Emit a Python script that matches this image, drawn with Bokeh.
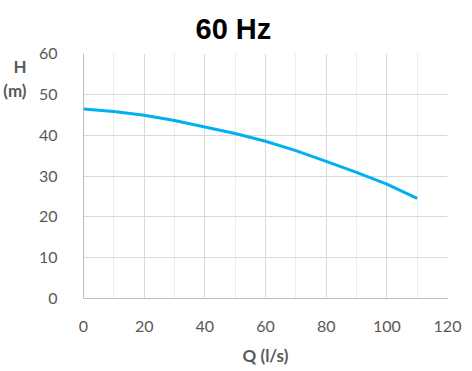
from bokeh.plotting import figure
from bokeh.models import FixedTicker, Range1d, LinearAxis, Title
from bokeh.embed import file_html
from bokeh.resources import INLINE

# Data
q = [0, 10, 20, 30, 40, 50, 60, 70, 80, 90, 100, 110]
h = [46.4, 45.8, 44.9, 43.6, 42.0, 40.4, 38.5, 36.2, 33.6, 30.9, 28.0, 24.5]
x_ticks = [0, 20, 40, 60, 80, 100, 120]
x_minor = [10, 30, 50, 70, 90, 110]
y_ticks = [0, 10, 20, 30, 40, 50, 60]
title_text = "60 Hz"
x_label = "Q (l/s)"
y_label_lines = {56.8: "H", 50.9: "(m)"}

W, H = 472, 371
p = figure(width=W, height=H, output_backend="svg", toolbar_location=None,
           x_range=Range1d(0, 120), y_range=Range1d(0, 60))
p.min_border_left = 83
p.min_border_right = 25
p.min_border_top = 53
p.min_border_bottom = 73
p.outline_line_color = None
p.background_fill_color = "white"
p.border_fill_color = "white"

tick_font = "Lato"
grey = "#595959"

p.xaxis.ticker = FixedTicker(ticks=x_ticks, minor_ticks=x_minor)
p.yaxis.ticker = FixedTicker(ticks=y_ticks)
for ax in (p.xaxis[0], p.yaxis[0]):
    ax.axis_line_color = "#bfbfbf"
    ax.axis_line_width = 1
    ax.major_tick_line_color = None
    ax.minor_tick_line_color = None
    ax.major_label_text_font = tick_font
    ax.major_label_text_font_size = "16px"
    ax.major_label_text_color = grey
p.yaxis.major_label_standoff = 20
p.xaxis.major_label_standoff = 16

p.xaxis.axis_label = x_label
p.xaxis.axis_label_text_font = tick_font
p.xaxis.axis_label_text_font_style = "bold"
p.xaxis.axis_label_text_font_size = "17px"
p.xaxis.axis_label_text_color = grey
p.xaxis.axis_label_standoff = 10

p.xgrid.grid_line_color = "#d9d9d9"
p.xgrid.minor_grid_line_color = "#ebebeb"
p.ygrid.grid_line_color = "#d9d9d9"

# "H (m)" label as an unlined outer axis on the left
lab_axis = LinearAxis(ticker=FixedTicker(ticks=list(y_label_lines.keys())),
                      major_label_overrides={k: v for k, v in y_label_lines.items()})
lab_axis.axis_line_color = None
lab_axis.major_tick_line_color = None
lab_axis.minor_tick_line_color = None
lab_axis.major_label_text_font = tick_font
lab_axis.major_label_text_font_style = "bold"
lab_axis.major_label_text_font_size = "17px"
lab_axis.major_label_text_color = grey
lab_axis.major_label_text_align = "center"
lab_axis.major_label_standoff = 3
p.add_layout(lab_axis, "left")

p.line(q, h, line_color="#00b0f0", line_width=3)

p.title = Title(text=title_text, align="left", offset=112, standoff=18,
                text_font="Liberation Sans", text_font_style="bold",
                text_font_size="29px", text_color="black")

open("out.html", "w").write(file_html(p, INLINE))
